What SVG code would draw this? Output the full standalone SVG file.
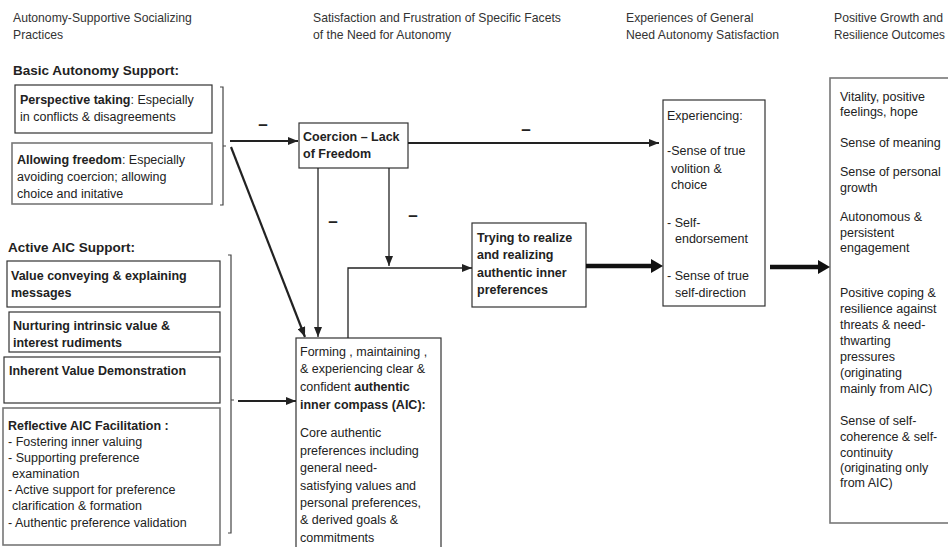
<svg xmlns="http://www.w3.org/2000/svg" width="948" height="547" viewBox="0 0 948 547">
  <style>
    text { font-family: "Liberation Sans", Arial, sans-serif; font-size: 12.5px; fill: #222; }
    .hdr { fill: #333; font-size: 12.2px; }
    .b { font-weight: bold; }
    .sec { font-weight: bold; font-size: 13.5px; }
    .minus { font-weight: bold; font-size: 17px; text-anchor: middle; }
    .box { fill: #fff; stroke: #333; stroke-width: 1.2; }
    .gbox { fill: #fff; stroke: #777; stroke-width: 1.6; }
    .brk { fill: none; stroke: #444; stroke-width: 1.2; }
    .thin { fill: none; stroke: #222; stroke-width: 1.3; }
    .mid { fill: none; stroke: #222; stroke-width: 2.2; }
    .thick { fill: none; stroke: #111; stroke-width: 4.5; }
  </style>
  <defs>
    <marker id="arr" viewBox="0 0 10 8" refX="10" refY="4" markerWidth="10" markerHeight="8" markerUnits="userSpaceOnUse" orient="auto">
      <path d="M0,0 L10,4 L0,8 z" fill="#222"/>
    </marker>
    <marker id="arrBig" viewBox="0 0 12 14" refX="0" refY="7" markerWidth="12" markerHeight="14" markerUnits="userSpaceOnUse" orient="auto">
      <path d="M0,0 L12,7 L0,14 z" fill="#111"/>
    </marker>
  </defs>

  <!-- column headings -->
  <g id="headings">
    <text class="hdr" x="13" y="22">Autonomy-Supportive Socializing</text>
    <text class="hdr" x="13" y="39">Practices</text>
    <text class="hdr" x="313" y="22">Satisfaction and Frustration of Specific Facets</text>
    <text class="hdr" x="313" y="39">of the Need for Autonomy</text>
    <text class="hdr" x="626" y="22">Experiences of General</text>
    <text class="hdr" x="626" y="39">Need Autonomy Satisfaction</text>
    <text class="hdr" x="834" y="22">Positive Growth and</text>
    <text class="hdr" x="834" y="39" textLength="111" lengthAdjust="spacingAndGlyphs">Resilience Outcomes</text>
  </g>

  <!-- basic autonomy support -->
  <text class="sec" x="13" y="75">Basic Autonomy Support:</text>
  <g id="perspective-taking">
    <rect class="box" x="15" y="85" width="197" height="48"/>
    <text x="20" y="104"><tspan class="b">Perspective taking</tspan>: Especially</text>
    <text x="20" y="121">in conflicts &amp; disagreements</text>
  </g>
  <g id="allowing-freedom">
    <rect class="gbox" x="12" y="143" width="200" height="61"/>
    <text x="17" y="164"><tspan class="b">Allowing freedom</tspan>: Especially</text>
    <text x="17" y="181">avoiding coercion; allowing</text>
    <text x="17" y="198">choice and initative</text>
  </g>

  <!-- active AIC support -->
  <text class="sec" x="8" y="252">Active AIC Support:</text>
  <g id="value-conveying">
    <rect class="box" x="7" y="261" width="213" height="46"/>
    <text class="b" x="11" y="280">Value conveying &amp; explaining</text>
    <text class="b" x="11" y="297">messages</text>
  </g>
  <g id="nurturing">
    <rect class="box" x="9" y="312" width="211" height="40"/>
    <text class="b" x="13" y="330">Nurturing intrinsic value &amp;</text>
    <text class="b" x="13" y="347">interest rudiments</text>
  </g>
  <g id="inherent-value">
    <rect class="box" x="4" y="357" width="216" height="46"/>
    <text class="b" x="9" y="375">Inherent Value Demonstration</text>
  </g>
  <g id="reflective-facilitation">
    <rect class="gbox" x="3" y="408" width="217" height="137"/>
    <text class="b" x="8" y="430">Reflective AIC Facilitation :</text>
    <text x="8" y="446">- Fostering inner valuing</text>
    <text x="8" y="462">- Supporting preference</text>
    <text x="12" y="478">examination</text>
    <text x="8" y="494">- Active support for preference</text>
    <text x="12" y="510">clarification &amp; formation</text>
    <text x="8" y="527">- Authentic preference validation</text>
  </g>

  <!-- middle column -->
  <g id="coercion">
    <rect class="box" x="299" y="123" width="109" height="45"/>
    <text class="b" x="303" y="141">Coercion  – Lack</text>
    <text class="b" x="303" y="158">of Freedom</text>
  </g>
  <g id="trying-to-realize">
    <rect class="box" x="472" y="223" width="114" height="84"/>
    <text class="b" x="477" y="242">Trying to realize</text>
    <text class="b" x="477" y="259">and realizing</text>
    <text class="b" x="477" y="277">authentic inner</text>
    <text class="b" x="477" y="294">preferences</text>
  </g>
  <g id="inner-compass">
    <rect class="box" x="296" y="338" width="145" height="230"/>
    <text x="300" y="356">Forming , maintaining ,</text>
    <text x="300" y="373">&amp; experiencing  clear &amp;</text>
    <text x="300" y="391">confident <tspan class="b">authentic</tspan></text>
    <text class="b" x="300" y="409">inner compass (AIC):</text>
    <text x="300" y="437">Core authentic</text>
    <text x="300" y="455">preferences including</text>
    <text x="300" y="472">general need-</text>
    <text x="300" y="490">satisfying values and</text>
    <text x="300" y="507">personal preferences,</text>
    <text x="300" y="524">&amp; derived goals &amp;</text>
    <text x="300" y="542">commitments</text>
  </g>

  <!-- general need satisfaction -->
  <g id="experiencing">
    <rect class="box" x="663" y="100" width="102" height="206"/>
    <text x="667" y="120">Experiencing:</text>
    <text x="667" y="155">-Sense of true</text>
    <text x="671" y="173">volition &amp;</text>
    <text x="671" y="189">choice</text>
    <text x="667" y="227">- Self-</text>
    <text x="675" y="243">endorsement</text>
    <text x="667" y="280">- Sense of true</text>
    <text x="675" y="297">self-direction</text>
  </g>

  <!-- outcomes -->
  <g id="outcomes">
    <rect class="gbox" x="830" y="78" width="140" height="445"/>
    <text x="840" y="101">Vitality, positive</text>
    <text x="840" y="116">feelings, hope</text>
    <text x="840" y="147">Sense of meaning</text>
    <text x="840" y="176">Sense of personal</text>
    <text x="840" y="192">growth</text>
    <text x="840" y="221">Autonomous &amp;</text>
    <text x="840" y="237">persistent</text>
    <text x="840" y="252">engagement</text>
    <text x="840" y="297">Positive coping &amp;</text>
    <text x="840" y="313">resilience against</text>
    <text x="840" y="329">threats &amp; need-</text>
    <text x="840" y="345">thwarting</text>
    <text x="840" y="361">pressures</text>
    <text x="840" y="377">(originating</text>
    <text x="840" y="393">mainly from AIC)</text>
    <text x="840" y="425">Sense of self-</text>
    <text x="840" y="441">coherence &amp; self-</text>
    <text x="840" y="457">continuity</text>
    <text x="840" y="472">(originating only</text>
    <text x="840" y="487">from AIC)</text>
  </g>

  <!-- brackets, arrows and signs -->
  <g id="connectors">
    <path class="brk" d="M220,87 H223 V205 H220 M223,146 H226"/>
    <path class="brk" d="M228,255 H231 V533 H228 M231,400 H234"/>

    <line class="mid" x1="230" y1="141" x2="298" y2="141" marker-end="url(#arr)"/>
    <line class="mid" x1="231" y1="147" x2="305" y2="337" marker-end="url(#arr)"/>
    <line class="thin" x1="318" y1="168" x2="318" y2="337" marker-end="url(#arr)"/>
    <line class="mid" x1="408" y1="143" x2="659" y2="143" marker-end="url(#arr)"/>
    <line class="thin" x1="389" y1="168" x2="389" y2="266" marker-end="url(#arr)"/>
    <path class="thin" d="M348,338 V268 H472" marker-end="url(#arr)"/>
    <line class="mid" x1="238" y1="401" x2="296" y2="401" marker-end="url(#arr)"/>
    <line class="thick" x1="586" y1="266" x2="651" y2="266" marker-end="url(#arrBig)"/>
    <line class="thick" x1="770" y1="267" x2="818" y2="267" marker-end="url(#arrBig)"/>

    <text class="minus" x="263" y="130">–</text>
    <text class="minus" x="526" y="135">–</text>
    <text class="minus" x="333" y="227">–</text>
    <text class="minus" x="413" y="221">–</text>
  </g>
</svg>
